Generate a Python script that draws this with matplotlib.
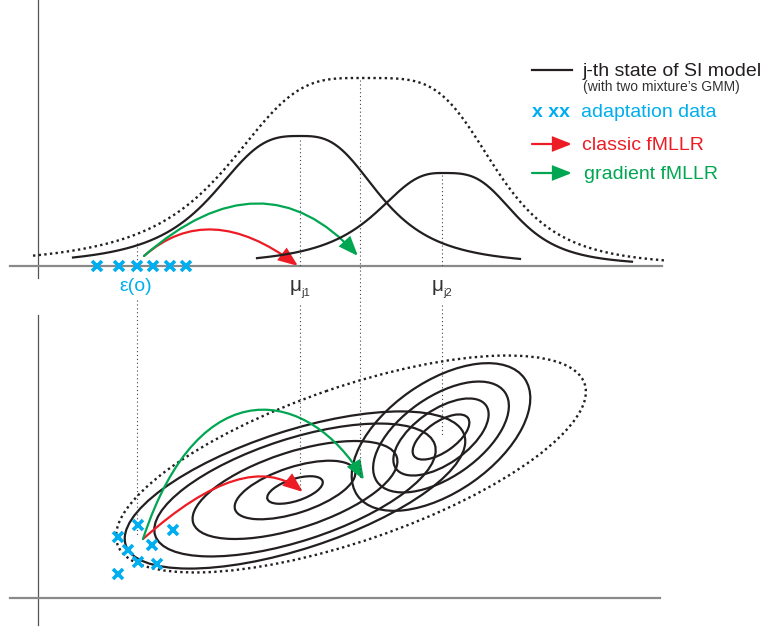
import numpy as np
import matplotlib.pyplot as plt
from matplotlib.patches import Ellipse, FancyArrowPatch
from matplotlib.path import Path

plt.rcParams['font.family'] = ['Liberation Sans', 'DejaVu Sans']

W, H = 768, 628
BLUE = '#00aeef'
RED = '#ed1c24'
GREEN = '#00a651'
INK = '#231f20'

# ---- top panel: 1-D view (pixel units, y grows downwards) ----
base_top = 266
# two mixture components: mean, height, left width/power, right width/power, x range
comp_mu = [300, 442]
comp_h = [130, 93]
comp_wl = [93.5, 74]
comp_pl = [3.0, 2.6]
comp_wr = [85, 78]
comp_pr = [3.0, 3.4]
comp_x0 = [73, 257]
comp_x1 = [520, 632]
# dotted envelope of the state
env_mu, env_h = 360, 188
env_wl, env_pl, env_wr, env_pr = 138, 3.3, 138, 4.4
env_x0, env_x1 = 33, 665

data_top_x = [97, 119, 137, 153, 170, 186]

# ---- bottom panel: 2-D view ----
set1_center = (295, 490)
set1_angle = 18
set1_a = [29, 63, 107, 147, 178]
set1_b = [11, 23, 38, 51, 59]
set2_center = (441, 437)
set2_angle = 35
set2_a = [33, 55, 78, 102]
set2_b = [15, 27, 40, 55]
env2_center = (351, 464)
env2_angle = 19
env2_a, env2_b = 247, 77

data_low_x = [138, 118, 173, 128, 152, 138, 157, 118]
data_low_y = [525, 537, 530, 550, 545, 562, 564, 574]

# guide lines: x, top part (y0, y1), lower part (y0, y1)
guide_x = [137, 300, 360, 442]
guide_top = [(243, 266), (140, 266), (80, 270), (175, 266)]
guide_low = [(300, 535), (305, 489), (270, 478), (305, 437)]


def bump(x, mu, h, wl, pl, wr, pr):
    d = x - mu
    w = np.where(d < 0, wl, wr)
    p = np.where(d < 0, pl, pr)
    return h / (1 + np.abs(d / w) ** p)


def arrow(ax, pts, color, lw=1.6, hl=1.15, hw=0.45):
    codes = [Path.MOVETO] + [Path.CURVE3 if len(pts) == 3 else Path.CURVE4] * (len(pts) - 1)
    p = FancyArrowPatch(path=Path(pts, codes), color=color, lw=lw,
                        arrowstyle='-|>,head_length=%g,head_width=%g' % (hl, hw),
                        mutation_scale=10, joinstyle='miter')
    ax.add_patch(p)


fig = plt.figure(figsize=(W / 100, H / 100), dpi=100)
ax = fig.add_axes([0, 0, 1, 1])
ax.set_xlim(0, W)
ax.set_ylim(H, 0)
ax.axis('off')

# axes of the two panels
ax.plot([38, 38], [0, 278], color='#555555', lw=0.9)
ax.plot([10, 662], [base_top, base_top], color='#8a8a8a', lw=1.6)
ax.plot([38, 38], [315, 625], color='#555555', lw=0.9)
ax.plot([10, 660], [598, 598], color='#8a8a8a', lw=1.6)

# guide lines
for gx, (t0, t1), (l0, l1) in zip(guide_x, guide_top, guide_low):
    ax.plot([gx, gx], [t0, t1], color='#444444', lw=0.8, ls=(0, (1, 2.5)))
    ax.plot([gx, gx], [l0, l1], color='#444444', lw=0.8, ls=(0, (1, 2.5)))

# top curves
xe = np.linspace(env_x0, env_x1, 400)
ax.plot(xe, base_top - bump(xe, env_mu, env_h, env_wl, env_pl, env_wr, env_pr),
        color=INK, lw=1.7, ls=(0, (1, 1.4)))
for i in range(2):
    xs = np.linspace(comp_x0[i], comp_x1[i], 400)
    ys = base_top - bump(xs, comp_mu[i], comp_h[i], comp_wl[i], comp_pl[i], comp_wr[i], comp_pr[i])
    ax.plot(xs, ys, color=INK, lw=1.6)

# bottom ellipses
for a, b in zip(set1_a, set1_b):
    ax.add_patch(Ellipse(set1_center, 2 * a, 2 * b, angle=-set1_angle,
                         fill=False, ec=INK, lw=1.6))
for a, b in zip(set2_a, set2_b):
    ax.add_patch(Ellipse(set2_center, 2 * a, 2 * b, angle=-set2_angle,
                         fill=False, ec=INK, lw=1.6))
ax.add_patch(Ellipse(env2_center, 2 * env2_a, 2 * env2_b, angle=-env2_angle,
                     fill=False, ec=INK, lw=1.7, ls=(0, (1, 1.4))))

# adaptation data
ax.plot(data_top_x, [base_top] * len(data_top_x), 'x', color=BLUE, ms=7, mew=2.6)
ax.plot(data_low_x, data_low_y, 'x', color=BLUE, ms=7, mew=2.6)

# transforms
arrow(ax, [(144, 256), (209, 199), (298, 266)], RED)
arrow(ax, [(144, 256), (263, 152), (358, 256)], GREEN)
arrow(ax, [(143, 539), (246, 447), (303, 492)], RED)
arrow(ax, [(143, 539), (200, 365), (310, 390), (364, 480)], GREEN)

# labels on the axis
ax.text(136, 291, 'ε(o)', color=BLUE, fontsize=14, ha='center', va='baseline')
ax.text(290, 291, 'μ', color='#333333', fontsize=15, ha='left', va='baseline')
ax.text(301, 296, 'j1', color='#333333', fontsize=8, ha='left', va='baseline')
ax.text(432, 291, 'μ', color='#333333', fontsize=15, ha='left', va='baseline')
ax.text(443, 296, 'j2', color='#333333', fontsize=8, ha='left', va='baseline')

# legend
ax.plot([532, 572], [70, 70], color=INK, lw=1.6)
ax.text(583, 76, 'j-th state of SI model', color=INK, fontsize=14, va='baseline')
ax.text(583, 91, '(with two mixture’s GMM)', color='#333333', fontsize=10, va='baseline')
ax.text(532, 117, 'x xx', color=BLUE, fontsize=14, fontweight='bold', va='baseline')
ax.text(581, 117, 'adaptation data', color=BLUE, fontsize=14, va='baseline')
arrow(ax, [(532, 144), (552, 144), (572, 144)], RED)
ax.text(582, 150, 'classic fMLLR', color=RED, fontsize=14, va='baseline')
arrow(ax, [(532, 173), (552, 173), (572, 173)], GREEN)
ax.text(584, 179, 'gradient fMLLR', color=GREEN, fontsize=14, va='baseline')

fig.savefig('out.png', dpi=100)
